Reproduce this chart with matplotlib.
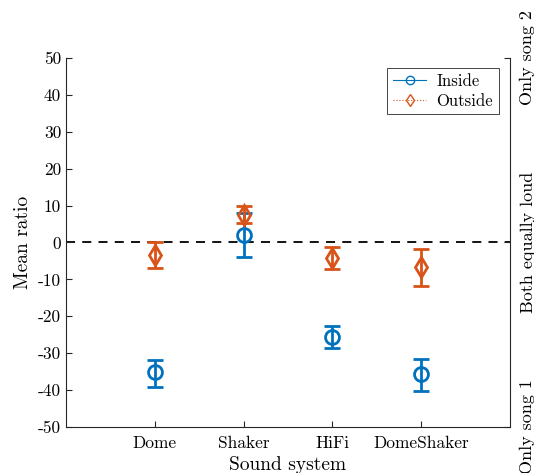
import numpy as np
import matplotlib
matplotlib.use('Agg')
from matplotlib import pyplot as plt
from matplotlib.lines import Line2D

# data
systems = ['Dome', 'Shaker', 'HiFi', 'DomeShaker']
inside_mean = [-35.2, 2.0, -25.5, -35.7]
inside_lo = [3.9, 6.0, 3.1, 4.5]
inside_hi = [3.4, 6.0, 3.0, 4.0]
outside_mean = [-3.4, 7.4, -4.3, -6.6]
outside_lo = [3.4, 2.2, 3.0, 5.1]
outside_hi = [3.4, 2.5, 3.2, 4.8]
yticks = [-50, -40, -30, -20, -10, 0, 10, 20, 30, 40, 50]
right_ticks = [-50, 0, 50]
right_labels = ['Only song 1', 'Both equally loud', 'Only song 2']

BLUE = '#0072BD'
ORANGE = '#D95319'

plt.rcParams['font.family'] = ['cmr10', 'DejaVu Serif']
plt.rcParams['axes.unicode_minus'] = False

fig = plt.figure(figsize=(5.34, 4.73), dpi=100)
ax = fig.add_axes([0.1236, 0.0973, 0.955 - 0.1236, 0.8774 - 0.0973])

x = np.arange(1, len(systems) + 1)
ax.axhline(0, color='black', linestyle=(0, (5, 4)), linewidth=1.3, zorder=1)

ax.errorbar(x, inside_mean, yerr=[inside_lo, inside_hi], fmt='o', color=BLUE,
            markersize=10, markerfacecolor='none', markeredgewidth=2,
            elinewidth=2, capsize=5.5, capthick=2, zorder=3)
ax.errorbar(x, outside_mean, yerr=[outside_lo, outside_hi], fmt='d', color=ORANGE,
            markersize=10, markerfacecolor='none', markeredgewidth=2,
            elinewidth=2, capsize=5.5, capthick=2, zorder=4)

ax.set_xlim(0, 5)
ax.set_ylim(-50, 50)
ax.set_xticks(x)
ax.set_xticklabels(systems, fontsize=12.5)
ax.set_yticks(yticks)
ax.set_yticklabels([str(v) for v in yticks], fontsize=12.5)
ax.set_xlabel('Sound system', fontsize=14, labelpad=4)
ax.set_ylabel('Mean ratio', fontsize=14, labelpad=4)
ax.tick_params(direction='in', length=4, color='#262626')
ax.tick_params(axis='x', pad=6)
ax.spines['top'].set_visible(False)
ax.spines['right'].set_visible(False)
for s in ['left', 'bottom']:
    ax.spines[s].set_color('#262626')

ax2 = ax.twinx()
ax2.set_ylim(-50, 50)
ax2.set_yticks(right_ticks)
ax2.set_yticklabels(right_labels, rotation=90, va='center', fontsize=13)
ax2.tick_params(direction='in', length=4, color='#262626', pad=7)
for s in ['top', 'left', 'bottom']:
    ax2.spines[s].set_visible(False)
ax2.spines['right'].set_color('#262626')

handles = [
    Line2D([], [], color=BLUE, linestyle='-', linewidth=0.8, marker='o',
           markerfacecolor='none', markersize=6),
    Line2D([], [], color=ORANGE, linestyle=':', linewidth=0.8, marker='d',
           markerfacecolor='none', markersize=6),
]
leg = ax.legend(handles, ['Inside', 'Outside'], loc='upper right',
                bbox_to_anchor=(0.975, 0.973), borderaxespad=0, fontsize=12,
                fancybox=False, edgecolor='#262626', framealpha=1,
                handlelength=2.0, borderpad=0.35, labelspacing=0.25,
                handletextpad=0.6)
leg.get_frame().set_linewidth(0.6)

fig.savefig('out.png', dpi=100)
